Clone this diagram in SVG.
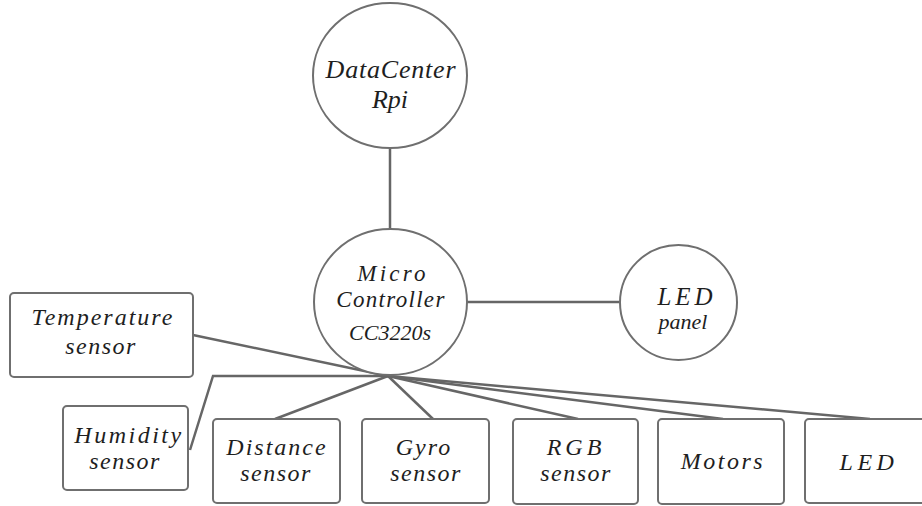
<svg xmlns="http://www.w3.org/2000/svg" width="922" height="506" viewBox="0 0 922 506">
<style>
.n{fill:#fff;stroke:#6f6f6f;stroke-width:2}
.b{fill:#fff;stroke:#6f6f6f;stroke-width:2}
.c{fill:none;stroke:#666;stroke-width:2.5;stroke-linejoin:miter}
text{font-family:"Liberation Serif","Times New Roman",serif;font-style:italic;fill:#1e1e1e;text-anchor:middle}
.t{font-size:24px}
</style>
<rect width="922" height="506" fill="#fff"/>
<g id="connectors">
<line class="c" x1="390" y1="148" x2="390" y2="229"/>
<line class="c" x1="467" y1="302" x2="620" y2="302"/>
<line class="c" x1="193" y1="335" x2="388" y2="376"/>
<polyline class="c" points="388,376 213,376 190,450"/>
<line class="c" x1="388" y1="376" x2="275" y2="419"/>
<line class="c" x1="388" y1="376" x2="433" y2="419"/>
<line class="c" x1="388" y1="376" x2="578" y2="419"/>
<line class="c" x1="388" y1="376" x2="723" y2="419"/>
<line class="c" x1="388" y1="376" x2="870" y2="419"/>
</g>
<g id="datacenter">
<ellipse class="n" cx="390" cy="75.5" rx="77" ry="72.5"/>
<text x="391" y="78" font-size="26" letter-spacing="0.8">DataCenter</text>
<text x="390" y="108" font-size="26">Rpi</text>
</g>
<g id="microcontroller">
<ellipse class="n" cx="390.5" cy="302" rx="76.5" ry="73"/>
<text x="393" y="281" font-size="23" letter-spacing="3.2">Micro</text>
<text x="391" y="307" font-size="23" letter-spacing="1.3">Controller</text>
<text x="390" y="340" font-size="22">CC3220s</text>
</g>
<g id="ledpanel">
<ellipse class="n" cx="678.5" cy="302.5" rx="58.5" ry="57.5"/>
<text x="687" y="305" font-size="25" letter-spacing="4">LED</text>
<text x="683" y="329" font-size="22">panel</text>
</g>
<g id="temperature">
<rect class="b" x="10" y="293" width="183" height="84" rx="4"/>
<text class="t" x="103" y="325" letter-spacing="2">Temperature</text>
<text class="t" x="101" y="354" letter-spacing="1.5">sensor</text>
</g>
<g id="humidity">
<rect class="b" x="63" y="406" width="125" height="84" rx="4"/>
<text class="t" x="129" y="443" letter-spacing="2.5">Humidity</text>
<text class="t" x="125" y="469" letter-spacing="1.5">sensor</text>
</g>
<g id="distance">
<rect class="b" x="213" y="419" width="127" height="84" rx="4"/>
<text class="t" x="277" y="455" letter-spacing="2">Distance</text>
<text class="t" x="276" y="481" letter-spacing="1.5">sensor</text>
</g>
<g id="gyro">
<rect class="b" x="362" y="419" width="127" height="84" rx="4"/>
<text class="t" x="424" y="455" letter-spacing="2">Gyro</text>
<text class="t" x="426" y="481" letter-spacing="1.5">sensor</text>
</g>
<g id="rgb">
<rect class="b" x="513" y="419" width="125" height="85" rx="4"/>
<text class="t" x="576" y="455" letter-spacing="4">RGB</text>
<text class="t" x="576" y="481" letter-spacing="1.5">sensor</text>
</g>
<g id="motors">
<rect class="b" x="658" y="419" width="126" height="85" rx="4"/>
<text class="t" x="723" y="469" letter-spacing="2.5">Motors</text>
</g>
<g id="led">
<rect class="b" x="805" y="419" width="125" height="84" rx="4"/>
<text class="t" x="869" y="470" letter-spacing="4.5">LED</text>
</g>
</svg>
